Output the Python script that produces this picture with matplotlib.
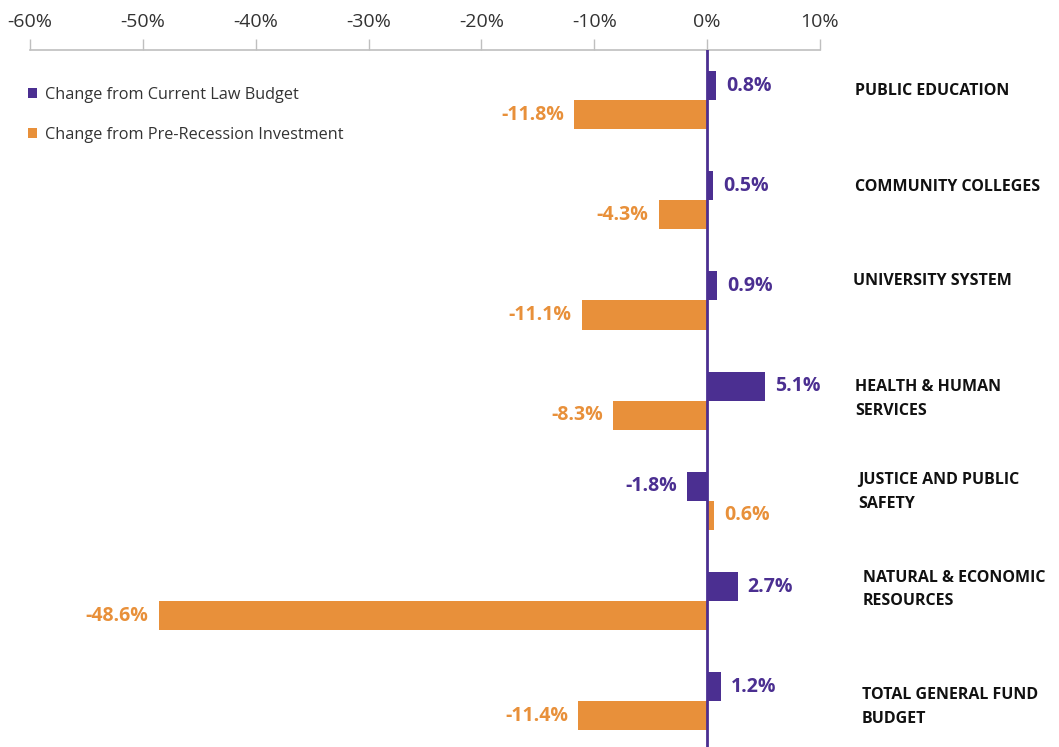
import matplotlib
matplotlib.use("Agg")
import matplotlib.pyplot as plt
from matplotlib.ticker import FuncFormatter

plt.rcParams['font.family'] = ['Open Sans', 'DejaVu Sans']

categories = ['PUBLIC EDUCATION', 'COMMUNITY COLLEGES', 'UNIVERSITY SYSTEM',
              'HEALTH & HUMAN\nSERVICES', 'JUSTICE AND PUBLIC\nSAFETY',
              'NATURAL & ECONOMIC\nRESOURCES', 'TOTAL GENERAL FUND\nBUDGET']
current_law = [0.8, 0.5, 0.9, 5.1, -1.8, 2.7, 1.2]
pre_recession = [-11.8, -4.3, -11.1, -8.3, 0.6, -48.6, -11.4]
series_names = ['Change from Current Law Budget', 'Change from Pre-Recession Investment']
x_ticks = [-60, -50, -40, -30, -20, -10, 0, 10]

purple = '#4b2f91'
orange = '#e8903a'

fig = plt.figure(figsize=(10.59, 7.47), dpi=100)
ax = fig.add_axes([30/1059, 0.0, 790/1059, 1 - 50/747])

pos = list(range(len(categories)))
h = 0.29
ax.barh([p - h/2 for p in pos], current_law, height=h, color=purple, label=series_names[0])
ax.barh([p + h/2 for p in pos], pre_recession, height=h, color=orange, label=series_names[1])

ax.set_xlim(-60, 10)
ax.set_ylim(6.457, -0.5)

ax.axvline(0, color=purple, lw=2, zorder=3)

# value labels
pad = 0.9
for p, v in zip(pos, current_law):
    ax.text(v + pad if v >= 0 else v - pad, p - h/2, f'{v:.1f}%',
            ha='left' if v >= 0 else 'right', va='center',
            color=purple, fontsize=14, fontweight='bold')
for p, v in zip(pos, pre_recession):
    ax.text(v + pad if v >= 0 else v - pad, p + h/2, f'{v:.1f}%',
            ha='left' if v >= 0 else 'right', va='center',
            color=orange, fontsize=14, fontweight='bold')

# category names on the right (small hand nudges as in the original layout)
dy = [-0.12, -0.16, -0.22, -0.04, -0.11, -0.14, 0.03]
dx = [0.0, 0.0, -0.2, 0.0, 0.3, 0.7, 0.6]
for p, c, oy, ox in zip(pos, categories, dy, dx):
    ax.text(13.1 + ox, p + oy + 0.025, c, ha='left', va='center', fontsize=11.5,
            fontweight='bold', color='#111111', linespacing=1.65, clip_on=False)

ax.xaxis.set_ticks_position('top')
ax.xaxis.set_label_position('top')
ax.set_xticks(x_ticks)
ax.xaxis.set_major_formatter(FuncFormatter(lambda x, _: f'{x:.0f}%'))
ax.tick_params(axis='x', direction='out', length=8, width=1, color='#bfbfbf',
               labelsize=14, labelcolor='#333333', pad=6)
ax.set_yticks([])
for s in ['left', 'right', 'bottom']:
    ax.spines[s].set_visible(False)
ax.spines['top'].set_color('#bfbfbf')
ax.spines['top'].set_linewidth(1.2)

leg = ax.legend(loc='upper left', bbox_to_anchor=(13/1059, 1 - 72/747),
                bbox_transform=fig.transFigure, frameon=False, fontsize=11.7,
                handlelength=0.6, handleheight=0.6, handletextpad=0.45,
                labelspacing=1.5, labelcolor='#333333')

fig.savefig('out.png', dpi=100)
